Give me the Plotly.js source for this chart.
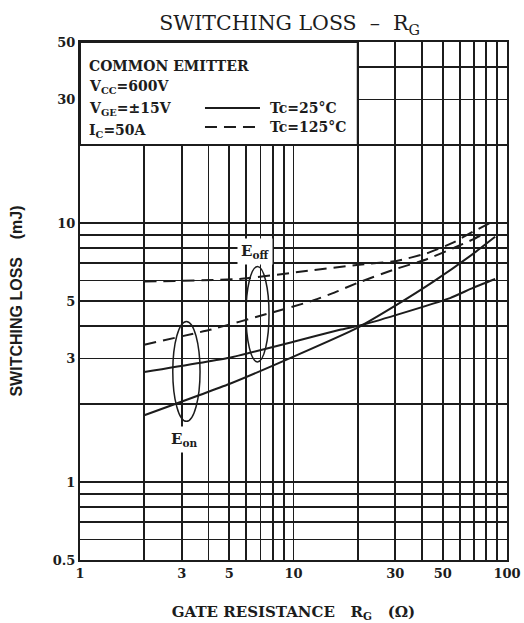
<!DOCTYPE html>
<html>
<head>
<meta charset="utf-8">
<script src="https://cdn.plot.ly/plotly-3.0.1.min.js"></script>
<style>
  html, body { margin: 0; padding: 0; background: #fff; }
  #chart { width: 524px; height: 623px; }
</style>
</head>
<body>
<div id="chart"></div>
<script>
// Gate resistance (ohm) and switching loss (mJ) for each curve
const rgOff25 = [2, 5, 10, 16.5, 21.2, 30.4, 54.1, 69.3, 88];
const eOff25  = [2.66, 3.02, 3.48, 3.87, 4.05, 4.42, 5.13, 5.62, 6.08];

const rgOn25 = [2, 5, 10, 19.8, 30.4, 45.2, 69.3, 88];
const eOn25  = [1.81, 2.39, 3.05, 3.93, 4.83, 5.94, 7.6, 8.85];

const rgOff125 = [2, 5.6, 11.9, 19.8, 30.4, 42.1, 55.9, 69.3, 83];
const eOff125  = [5.94, 6.08, 6.55, 6.89, 7.14, 7.64, 8.40, 9.26, 10.0];

const rgOn125 = [2, 4.06, 7.76, 11.9, 15.3, 19.8, 29.2, 42.1, 55.9, 69.3, 79];
const eOn125  = [3.39, 3.87, 4.49, 4.97, 5.36, 5.86, 6.59, 7.25, 7.99, 8.65, 9.13];

// Log grid positions and their labels
const xGrid   = [1, 2, 3, 4, 5, 6, 7, 8, 9, 10, 20, 30, 40, 50, 60, 70, 80, 90, 100];
const xLabels = ['1', '', '3', '', '5', '', '', '', '', '10', '', '30', '', '50', '', '', '', '', '100'];
const yGrid   = [0.5, 0.6, 0.7, 0.8, 0.9, 1, 2, 3, 4, 5, 6, 7, 8, 9, 10, 20, 30, 40, 50];
const yLabels = ['0.5', '', '', '', '', '1', '', '3', '', '5', '', '', '', '', '10', '', '30', '', '50'];

// Condition block text
const condLines = ['COMMON EMITTER', 'V<sub>CC</sub>=600V', 'V<sub>GE</sub>=±15V', 'I<sub>C</sub>=50A'];
const tcLabels  = ['Tc=25°C', 'Tc=125°C'];

const ink = '#1c1c1c';
const serif = 'DejaVu Serif, serif';
const boldSerif = { family: serif, size: 14, color: ink, weight: 'bold' };

function curve(x, y, dash, name) {
  return {
    type: 'scatter', mode: 'lines', x: x, y: y, name: name,
    line: { color: ink, width: 2, dash: dash, shape: 'spline', smoothing: 0.4 },
    hoverinfo: 'skip'
  };
}

const data = [
  curve(rgOff25, eOff25, 'solid', 'Eoff Tc=25°C'),
  curve(rgOn25, eOn25, 'solid', 'Eon Tc=25°C'),
  curve(rgOff125, eOff125, '12px,7px', 'Eoff Tc=125°C'),
  curve(rgOn125, eOn125, '12px,7px', 'Eon Tc=125°C')
];

const axisCommon = {
  type: 'log', showgrid: true, gridcolor: ink, gridwidth: 1.8,
  showline: true, linecolor: ink, linewidth: 2, mirror: true,
  ticks: '', zeroline: false, fixedrange: true,
  tickfont: { family: serif, size: 13, color: ink, weight: 'bold' }
};

const condY = [0.9546, 0.9131, 0.8707, 0.8282];
const annotations = condLines.map((t, i) => ({
  xref: 'paper', yref: 'paper', x: 0.0164, y: condY[i],
  xanchor: 'left', yanchor: 'middle', showarrow: false, text: t,
  font: boldSerif
}));
[0.8726, 0.836].forEach((yy, i) => annotations.push({
  xref: 'paper', yref: 'paper', x: 0.4403, y: yy,
  xanchor: 'left', yanchor: 'middle', showarrow: false, text: tcLabels[i],
  font: boldSerif
}));
// Curve group labels
annotations.push({
  xref: 'x', yref: 'y', x: Math.log10(3.07), y: Math.log10(1.46),
  showarrow: false, text: 'E<sub>on</sub>', bgcolor: '#fff', borderpad: 3,
  font: { family: serif, size: 15, color: ink, weight: 'bold' }
});
annotations.push({
  xref: 'x', yref: 'y', x: Math.log10(6.6), y: Math.log10(7.73),
  showarrow: false, text: 'E<sub>off</sub>', bgcolor: '#fff', borderpad: 3,
  font: { family: serif, size: 15, color: ink, weight: 'bold' }
});

const shapes = [
  // condition block
  { type: 'rect', xref: 'x', yref: 'y', x0: 1, x1: 20, y0: 20, y1: 50,
    fillcolor: '#fff', line: { color: ink, width: 2 }, layer: 'above' },
  // line-style keys
  { type: 'line', xref: 'paper', yref: 'paper', x0: 0.2927, x1: 0.4215, y0: 0.8726, y1: 0.8726,
    line: { color: ink, width: 2 }, layer: 'above' },
  { type: 'line', xref: 'paper', yref: 'paper', x0: 0.2927, x1: 0.4215, y0: 0.836, y1: 0.836,
    line: { color: ink, width: 2, dash: '12px,7px' }, layer: 'above' },
  // group ellipses
  { type: 'circle', xref: 'x', yref: 'y', x0: 2.72, x1: 3.65, y0: 1.715, y1: 4.17,
    line: { color: ink, width: 1.5 }, layer: 'above' },
  { type: 'circle', xref: 'x', yref: 'y', x0: 5.99, x1: 7.68, y0: 2.91, y1: 6.79,
    line: { color: ink, width: 1.5 }, layer: 'above' }
];

const layout = {
  width: 524, height: 623,
  margin: { l: 80, r: 17, t: 42, b: 63 },
  paper_bgcolor: '#fff', plot_bgcolor: '#fff',
  showlegend: false,
  title: {
    text: 'SWITCHING LOSS  –  R<sub>G</sub>',
    x: 0.5525, xanchor: 'center', y: 0.963, yanchor: 'middle',
    font: { family: serif, size: 20.5, color: ink }
  },
  xaxis: Object.assign({}, axisCommon, {
    range: [0, 2], tickvals: xGrid, ticktext: xLabels,
    title: { text: 'GATE RESISTANCE   R<sub>G</sub>   (Ω)', standoff: 27,
             font: { family: serif, size: 15, color: ink, weight: 'bold' } }
  }),
  yaxis: Object.assign({}, axisCommon, {
    range: [Math.log10(0.5), Math.log10(50)], tickvals: yGrid, ticktext: yLabels,
    title: { text: 'SWITCHING LOSS    (mJ)', standoff: 26,
             font: { family: 'Liberation Sans, sans-serif', size: 16, color: ink, weight: 'bold' } }
  }),
  shapes: shapes,
  annotations: annotations
};

Plotly.newPlot('chart', data, layout, { staticPlot: true, displayModeBar: false });
</script>
</body>
</html>
